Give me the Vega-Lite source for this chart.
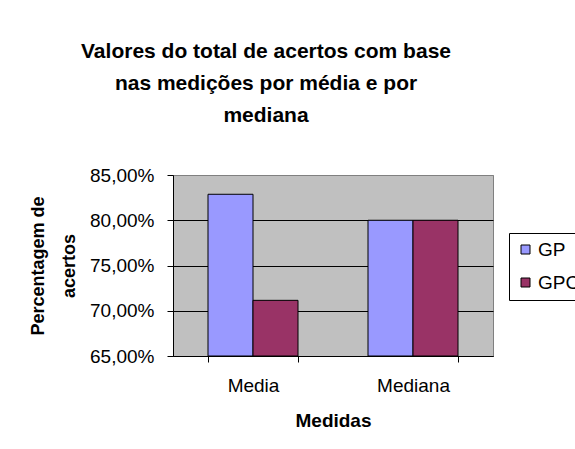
{
  "$schema": "https://vega.github.io/schema/vega-lite/v6.json",
  "width": 320,
  "height": 181,
  "autosize": "none",
  "padding": {"left": 173, "top": 175, "right": 82, "bottom": 93},
  "background": "white",
  "title": {
    "text": ["Valores do total de acertos com base", "nas medições por média e por", "mediana"],
    "fontSize": 21,
    "font": "Liberation Sans",
    "fontWeight": "bold",
    "color": "black",
    "lineHeight": 32,
    "anchor": "middle",
    "dx": -67,
    "offset": 40
  },
  "data": {
    "values": [
      {"medida": "Media", "grupo": "GP", "valor": 0.8287},
      {"medida": "Media", "grupo": "GPC", "valor": 0.7115},
      {"medida": "Mediana", "grupo": "GP", "valor": 0.8},
      {"medida": "Mediana", "grupo": "GPC", "valor": 0.8}
    ]
  },
  "mark": {"type": "bar", "stroke": "black", "strokeWidth": 1},
  "encoding": {
    "x": {
      "field": "medida",
      "type": "nominal",
      "sort": ["Media", "Mediana"],
      "scale": {"paddingInner": 0.4375, "paddingOuter": 0.21875},
      "axis": {
        "title": "Medidas",
        "labelAngle": 0,
        "tickBand": "extent",
        "labelFont": "Liberation Sans",
        "labelFontSize": 19,
        "labelColor": "black",
        "labelPadding": 14,
        "tickSize": 6,
        "tickColor": "black",
        "domainColor": "black",
        "titleFont": "Liberation Sans",
        "titleFontSize": 19,
        "titleFontWeight": "bold",
        "titleColor": "black",
        "titlePadding": 16
      }
    },
    "xOffset": {"field": "grupo", "sort": ["GP", "GPC"]},
    "y": {
      "field": "valor",
      "type": "quantitative",
      "scale": {"domain": [0.65, 0.85], "zero": false, "nice": false},
      "axis": {
        "title": ["Percentagem de", "acertos"],
        "values": [0.65, 0.7, 0.75, 0.8, 0.85],
        "labelExpr": "replace(format(datum.value, '.2%'), '.', ',')",
        "labelFont": "Liberation Sans",
        "labelFontSize": 19,
        "labelColor": "black",
        "labelPadding": 13,
        "tickSize": 6,
        "tickColor": "black",
        "domainColor": "black",
        "grid": true,
        "gridColor": {"condition": {"test": "datum.value >= 0.849", "value": "#808080"}, "value": "black"},
        "gridOpacity": 1,
        "titleFont": "Liberation Sans",
        "titleFontSize": 18,
        "titleFontWeight": "bold",
        "titleColor": "black",
        "titleLineHeight": 31,
        "titlePadding": 11
      }
    },
    "y2": {"datum": 0.65},
    "color": {
      "field": "grupo",
      "type": "nominal",
      "scale": {"domain": ["GP", "GPC"], "range": ["#9999FF", "#993366"]},
      "legend": {
        "title": null,
        "orient": "none",
        "legendX": 336,
        "legendY": 58,
        "strokeColor": "black",
        "fillColor": "white",
        "padding": 7,
        "symbolType": "square",
        "symbolSize": 81,
        "symbolStrokeColor": "black",
        "symbolStrokeWidth": 1,
        "symbolOpacity": 1,
        "labelFont": "Liberation Sans",
        "labelFontSize": 19,
        "labelColor": "black",
        "labelOffset": 3,
        "rowPadding": 13
      }
    }
  },
  "config": {
    "view": {"fill": "#C0C0C0", "stroke": "#808080", "strokeWidth": 1}
  }
}
